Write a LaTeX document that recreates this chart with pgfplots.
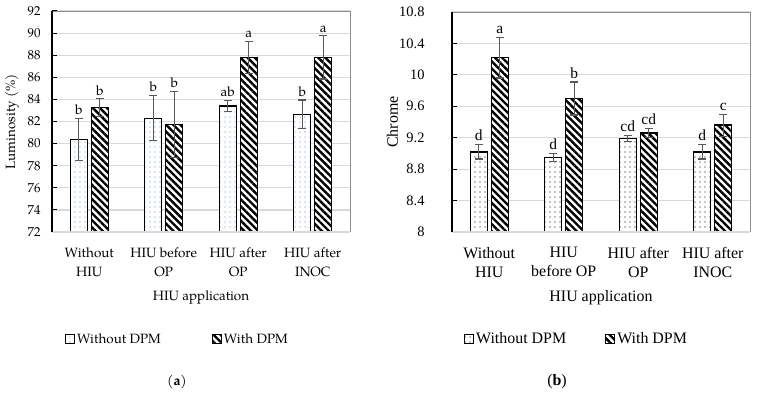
\documentclass[border=0pt]{standalone}
\usepackage{fontspec}
\usepackage{pgfplots}
\usepackage{pgfplotstable}
\pgfplotsset{compat=1.18}
\usetikzlibrary{patterns.meta}
\newfontfamily\pal{TeX Gyre Pagella}
\newfontfamily\tms{Liberation Serif}
\definecolor{errgray}{HTML}{595959}
\definecolor{gridgray}{HTML}{D9D9D9}
\definecolor{framegray}{HTML}{8C8C8C}
\definecolor{dotblue}{HTML}{6C8FE0}

% Luminosity: mean and SD without (a) and with (b) DPM, letters of significance
\pgfplotstableread{
x a ea b eb la lb
1 80.4 1.9 83.25 0.8 b b
2 82.3 2.05 81.75 3.0 b b
3 83.4 0.5 87.8 1.45 ab a
4 82.65 1.3 87.8 1.95 b a
}\lum
% Chrome
\pgfplotstableread{
x a ea b eb la lb
1 9.02 0.09 10.22 0.26 d a
2 8.95 0.05 9.70 0.21 d b
3 9.19 0.04 9.26 0.06 cd cd
4 9.02 0.09 9.36 0.14 d c
}\chr

\pgfplotsset{
  sqleg/.style={legend image code/.code={\draw[##1,line width=1bp] (0bp,-4.5bp) rectangle (9bp,4.5bp);}},
  panel/.style={
    ybar=4bp, bar width=17bp,
    scale only axis, width=298bp,
    xmin=0.5, xmax=4.5, xtick={1,2,3,4},
    major x tick style={draw=none},
    ytick pos=left, tick align=inside, major tick length=5bp,
    y tick style={black, line width=1bp},
    axis line style={draw=none},
    ymajorgrids, grid style={gridgray, line width=1.2bp},
    xticklabel style={align=center},
    /pgf/number format/assume math mode=true,
    legend style={draw=none, fill=none, legend columns=2},
    after end axis/.code={
      \draw[framegray, line width=0.9bp] (rel axis cs:0,1) -- (rel axis cs:1,1) -- (rel axis cs:1,0);
      \draw[gridgray, line width=1.3bp] (rel axis cs:0,0) -- (rel axis cs:1,0);
      \draw[black, line width=1.3bp] (rel axis cs:0,0) -- (rel axis cs:0,1);
    },
  },
  % #1: length of one y unit, #2: letter font
  common/.style 2 args={fill=white, draw=black, line width=1.3bp, sqleg,
    error bars/.cd, y dir=both, y explicit,
    error bar style={errgray, line width=1.2bp},
    error mark options={errgray, rotate=90, mark size=4bp, line width=1.2bp},
    /pgfplots/.cd,
    nodes near coords, point meta=explicit symbolic,
    visualization depends on={\thisrow{err} \as \myerr},
    nodes near coords style={anchor=south, inner sep=1bp, black,
      yshift={\myerr*#1+2bp}, font=#2}},
  dotted/.style={postaction={pattern={Dots[distance=5bp, radius=0.55bp]}, pattern color=#1}},
  striped/.style={postaction={pattern={Lines[angle=-45, distance=5bp, line width=2.4bp]}, pattern color=black}},
}

\begin{document}
\begin{tikzpicture}[x=1bp,y=1bp]
\path (0,0) rectangle (757,397);

% (a) Luminosity
\begin{axis}[panel, at={(52bp,165bp)}, anchor=south west, height=221bp,
  ymin=72, ymax=92, ytick={72,74,...,92},
  font=\pal\fontsize{13.5}{19}\selectfont,
  yticklabel style={font=\pal\fontsize{13}{15}\selectfont, xshift=-8bp},
  xticklabel style={font=\pal\fontsize{13.5}{19}\selectfont, yshift=-12bp},
  xticklabels={{Without\\HIU},{HIU before\\OP},{HIU after\\OP},{HIU after\\INOC}},
  xlabel={HIU application},
  x label style={at={(axis description cs:0.5,-0.295)}, anchor=center},
  ylabel={Luminosity (\%)},
  y label style={at={(axis description cs:-0.134,0.5)}, anchor=center},
  legend style={at={(0.421,-0.484)}, anchor=center, font=\pal\fontsize{13.5}{15}\selectfont,
    /tikz/every even column/.append style={column sep=49bp}},
]
\addplot[common={11.05bp}{\pal\fontsize{13.5}{15}\selectfont}, dotted=dotblue]
  table[x=x, y=a, y error=ea, meta=la, create on use/err/.style={create col/copy=ea}]{\lum};
\addplot[common={11.05bp}{\pal\fontsize{13.5}{15}\selectfont}, striped]
  table[x=x, y=b, y error=eb, meta=lb, create on use/err/.style={create col/copy=eb}]{\lum};
\legend{Without DPM, With DPM}
\end{axis}

% (b) Chrome
\begin{axis}[panel, at={(452bp,165bp)}, anchor=south west, height=220bp,
  ymin=8, ymax=10.8, ytick={8,8.4,8.8,9.2,9.6,10,10.4,10.8},
  font=\tms\fontsize{16}{19}\selectfont,
  yticklabel style={font=\tms\fontsize{14.5}{17}\selectfont, xshift=-24bp},
  xticklabel style={font=\tms\fontsize{16}{19}\selectfont, yshift=-12bp},
  xticklabels={{Without\\HIU},{HIU\\before OP},{HIU after\\OP},{HIU after\\INOC}},
  xlabel={HIU application},
  x label style={at={(axis description cs:0.5,-0.30)}, anchor=center},
  ylabel={Chrome},
  y label style={at={(axis description cs:-0.2,0.5)}, anchor=center},
  legend style={at={(0.418,-0.486)}, anchor=center, font=\tms\fontsize{16}{18}\selectfont,
    /tikz/every even column/.append style={column sep=37bp}},
]
\addplot[common={78.57bp}{\tms\fontsize{15.5}{17}\selectfont}, dotted=black]
  table[x=x, y=a, y error=ea, meta=la, create on use/err/.style={create col/copy=ea}]{\chr};
\addplot[common={78.57bp}{\tms\fontsize{15.5}{17}\selectfont}, striped]
  table[x=x, y=b, y error=eb, meta=lb, create on use/err/.style={create col/copy=eb}]{\chr};
\legend{Without DPM, With DPM}
\end{axis}

\node[font=\pal\fontsize{14}{16}\selectfont] at (177,15) {(\textbf{a})};
\node[font=\tms\fontsize{16}{18}\selectfont] at (557,15) {(\textbf{b})};
\end{tikzpicture}
\end{document}
